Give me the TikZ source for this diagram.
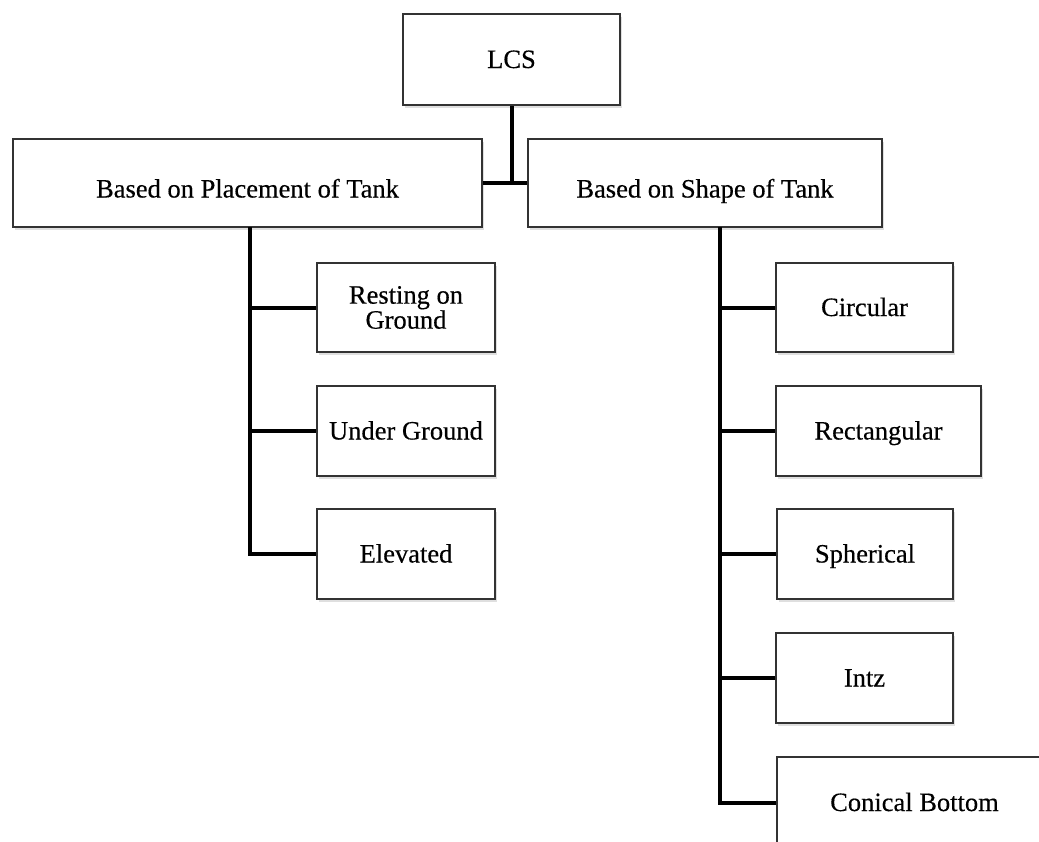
\documentclass[tikz,border=0pt]{standalone}
\usepackage{fontspec}
\setmainfont[FakeBold=0.4]{Liberation Serif}
\usetikzlibrary{shadows}
\begin{document}
\begin{tikzpicture}[x=1pt,y=-1pt,
  box/.style={draw=black!80, line width=2pt, fill=white, inner sep=0pt, align=center,
    font=\fontsize{26.5}{25}\selectfont,
    drop shadow={opacity=0.25, shadow xshift=2pt, shadow yshift=-3pt}},
  one/.style={text height=23pt, text depth=6pt},
  low/.style={text height=35pt, text depth=6pt},
  conn/.style={draw=black, line width=4pt}]
\useasboundingbox (0,0) rectangle (1039,841);
\clip (0,0) rectangle (1039,841);
\node[box, one, minimum width=217pt, minimum height=91pt] (lcs) at (511.5,59.5) {LCS};
\node[box, low, minimum width=469pt, minimum height=88pt] (pl) at (247.5,183) {Based on Placement of Tank};
\node[box, low, minimum width=354pt, minimum height=88pt] (sh) at (705,183) {Based on Shape of Tank};
\node[box, minimum width=178pt, minimum height=89pt] (rest) at (406,307.5) {Resting on\\Ground};
\node[box, one, minimum width=178pt, minimum height=90pt] (under) at (406,431) {Under Ground};
\node[box, one, minimum width=178pt, minimum height=90pt] (elev) at (406,554) {Elevated};
\node[box, one, minimum width=177pt, minimum height=89pt] (circ) at (864.5,307.5) {Circular};
\node[box, one, minimum width=205pt, minimum height=90pt] (rect) at (878.5,431) {Rectangular};
\node[box, one, minimum width=176pt, minimum height=90pt] (sph) at (865,554) {Spherical};
\node[box, one, minimum width=177pt, minimum height=90pt] (intz) at (864.5,678) {Intz};
\node[box, one, minimum width=275pt, minimum height=91pt] (con) at (914.5,802.5) {Conical Bottom};
\coordinate (lt) at (250,227);
\coordinate (rt) at (720,227);
\draw[conn] (lcs.south) -- (lcs.south |- pl.east);
\draw[conn] (pl.east) -- (sh.west);
\draw[conn] (lt) |- (elev.west);
\draw[conn] (lt |- rest.west) -- (rest.west);
\draw[conn] (lt |- under.west) -- (under.west);
\draw[conn] (rt) |- (con.west);
\draw[conn] (rt |- circ.west) -- (circ.west);
\draw[conn] (rt |- rect.west) -- (rect.west);
\draw[conn] (rt |- sph.west) -- (sph.west);
\draw[conn] (rt |- intz.west) -- (intz.west);
\end{tikzpicture}
\end{document}
